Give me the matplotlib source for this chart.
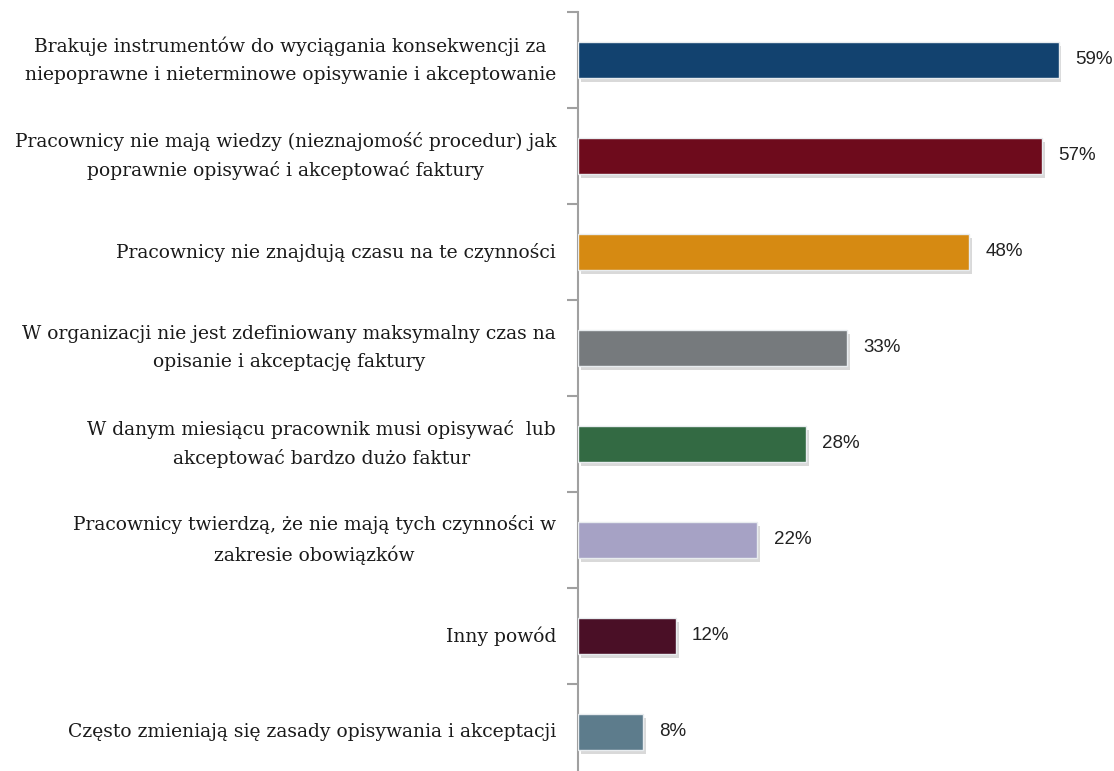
import matplotlib
matplotlib.use("Agg")
import matplotlib.pyplot as plt
import matplotlib.patheffects as pe

categories = [
    "Brakuje instrumentów do wyciągania konsekwencji za\nniepoprawne i nieterminowe opisywanie i akceptowanie",
    "Pracownicy nie mają wiedzy (nieznajomość procedur) jak\npoprawnie opisywać i akceptować faktury",
    "Pracownicy nie znajdują czasu na te czynności",
    "W organizacji nie jest zdefiniowany maksymalny czas na\nopisanie i akceptację faktury",
    "W danym miesiącu pracownik musi opisywać  lub\nakceptować bardzo dużo faktur",
    "Pracownicy twierdzą, że nie mają tych czynności w\nzakresie obowiązków",
    "Inny powód",
    "Często zmieniają się zasady opisywania i akceptacji",
]
values = [59, 57, 48, 33, 28, 22, 12, 8]
colors = ["#12426f", "#6e0b1c", "#d68a12", "#767a7d", "#336a43",
          "#a6a2c5", "#4a0f26", "#5d7c8c"]

fig = plt.figure(figsize=(11.14, 7.71), dpi=100)
ax = fig.add_axes([578 / 1114, -9 / 771, 1 - 578 / 1114, 768 / 771])

y = list(range(len(values)))
bars = ax.barh(y, values, height=0.37, color=colors, edgecolor="#e8ecef",
               linewidth=1.0, zorder=3)
for b in bars:
    b.set_path_effects([pe.SimplePatchShadow(offset=(2, -3), alpha=0.22,
                                             shadow_rgbFace="#555555"),
                        pe.Normal()])

for yi, v in zip(y, values):
    ax.text(v + 2.0, yi, f"{v}%", va="center", ha="left", fontsize=13.5,
            family="Liberation Sans", color="#222222")

for yi, lab in zip(y, categories):
    ax.text(-2.7, yi, lab, va="center", ha="right", multialignment="center",
            fontsize=13.5, family="DejaVu Serif", color="#1a1a1a",
            linespacing=1.72)

ax.set_xlim(0, 65.8)
ax.set_ylim(len(values) - 0.5, -0.5)
ax.set_xticks([])
ax.set_yticks([i - 0.5 for i in range(len(values) + 1)])
ax.set_yticklabels([])
ax.tick_params(axis="y", direction="out", length=8, width=1.5, color="#a0a0a0")
for s in ["top", "right", "bottom"]:
    ax.spines[s].set_visible(False)
ax.spines["left"].set_color("#a0a0a0")
ax.spines["left"].set_linewidth(1.5)

fig.savefig("out.png", dpi=100)
